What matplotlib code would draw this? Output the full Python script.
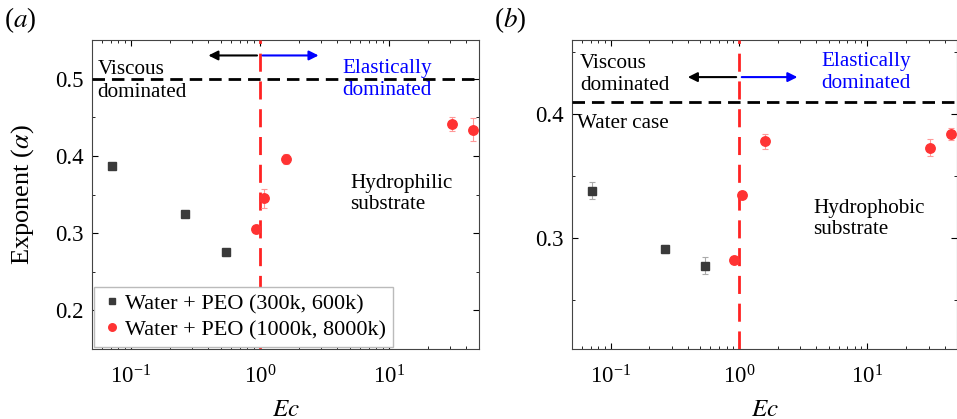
import numpy as np
import matplotlib
matplotlib.use('Agg')
import matplotlib.pyplot as plt
from matplotlib.ticker import LogLocator, MultipleLocator, NullFormatter

plt.rcParams['font.family'] = ['Liberation Serif', 'DejaVu Serif']
plt.rcParams['mathtext.fontset'] = 'stix'
plt.rcParams['font.size'] = 15.2

# panel (a): hydrophilic substrate
a_low_x = [0.072, 0.264, 0.545]
a_low_y = [0.387, 0.325, 0.275]
a_low_err = [0.004, 0.003, 0.004]
a_high_x = [0.93, 1.07, 1.59, 30.8, 44.8]
a_high_y = [0.305, 0.345, 0.396, 0.441, 0.434]
a_high_err = [0.005, 0.012, 0.007, 0.009, 0.015]

# panel (b): hydrophobic substrate
b_low_x = [0.072, 0.264, 0.545]
b_low_y = [0.338, 0.291, 0.2775]
b_low_err = [0.007, 0.003, 0.007]
b_high_x = [0.92, 1.06, 1.59, 30.7, 44.7]
b_high_y = [0.282, 0.335, 0.378, 0.373, 0.384]
b_high_err = [0.003, 0.003, 0.006, 0.007, 0.005]

labels = ['Water + PEO (300k, 600k)', 'Water + PEO (1000k, 8000k)']
dark = '#3a3a3a'
red = '#ff3333'

fig = plt.figure(figsize=(9.57, 4.19), dpi=100)
ax1 = fig.add_axes([0.0961, 0.167, 0.4044, 0.7375])
ax2 = fig.add_axes([0.5977, 0.167, 0.4023, 0.7375])


def draw(ax, lx, ly, le, hx, hy, he, hline, ylim, arrow_y):
    ax.errorbar(lx, ly, yerr=le, fmt='none', ecolor='#aaaaaa',
                elinewidth=0.8, capsize=2.5, capthick=0.8, zorder=4)
    ax.errorbar(hx, hy, yerr=he, fmt='none', ecolor='#ff9999',
                elinewidth=0.8, capsize=2.5, capthick=0.8, zorder=4)
    ax.plot(lx, ly, 's', color=dark, ms=5.5, label=labels[0], zorder=5)
    ax.plot(hx, hy, 'o', color=red, ms=6.8, label=labels[1], zorder=5)
    ax.axhline(hline, color='black', ls=(0, (4.5, 2.5)), lw=2, zorder=3)
    ax.axvline(1.0, color='#ff2222', ls=(0, (6.5, 3.5)), lw=2, zorder=3)
    ax.annotate('', xy=(0.38, arrow_y), xytext=(1.0, arrow_y),
                arrowprops=dict(arrowstyle='-|>', color='black', lw=1.5, mutation_scale=14))
    ax.annotate('', xy=(3.0, arrow_y), xytext=(1.0, arrow_y),
                arrowprops=dict(arrowstyle='-|>', color='blue', lw=1.5, mutation_scale=14))
    ax.set_xscale('log')
    ax.set_xlim(0.05, 50)
    ax.set_ylim(*ylim)
    ax.xaxis.set_major_locator(LogLocator(base=10))
    ax.xaxis.set_minor_locator(LogLocator(base=10, subs=np.arange(2, 10)))
    ax.xaxis.set_minor_formatter(NullFormatter())
    ax.yaxis.set_major_locator(MultipleLocator(0.1))
    ax.yaxis.set_minor_locator(MultipleLocator(0.05))
    ax.tick_params(which='both', direction='in', top=True, right=True, labelsize=16.5)
    ax.tick_params(which='major', length=4, width=0.8, pad=6)
    ax.tick_params(axis='x', which='major', pad=12)
    ax.tick_params(which='minor', length=2.5, width=0.6)
    ax.set_xlabel('$Ec$', fontsize=18, labelpad=7)
    for s in ax.spines.values():
        s.set_color('#444444')


draw(ax1, a_low_x, a_low_y, a_low_err, a_high_x, a_high_y, a_high_err, 0.5, (0.15, 0.55), 0.53)
ax1.set_ylabel(r'Exponent ($\alpha$)', fontsize=19)
ax1.yaxis.set_label_coords(-0.145, 0.5)
ax1.text(0.014, 0.935, 'Viscous\ndominated', transform=ax1.transAxes, va='top', ha='left', linespacing=1.25)
ax1.text(0.646, 0.94, 'Elastically\ndominated', transform=ax1.transAxes, va='top', ha='left',
         color='blue', linespacing=1.25)
ax1.text(0.667, 0.565, 'Hydrophilic\nsubstrate', transform=ax1.transAxes, va='top', ha='left', linespacing=1.1)
leg = ax1.legend(loc='lower left', borderaxespad=0.1, handletextpad=0.1, handlelength=1.0,
                 fancybox=False, edgecolor='#bbbbbb', framealpha=1, borderpad=0.3, labelspacing=0.25,
                 markerscale=0.8, fontsize=16)
fig.text(0.004, 0.952, '($a$)', fontsize=19.5, va='center')

draw(ax2, b_low_x, b_low_y, b_low_err, b_high_x, b_high_y, b_high_err, 0.41, (0.21, 0.46), 0.43)
ax2.text(0.021, 0.955, 'Viscous\ndominated', transform=ax2.transAxes, va='top', ha='left', linespacing=1.2)
ax2.text(0.648, 0.96, 'Elastically\ndominated', transform=ax2.transAxes, va='top', ha='left',
         color='blue', linespacing=1.2)
ax2.text(0.012, 0.76, 'Water case', transform=ax2.transAxes, va='top', ha='left')
ax2.text(0.626, 0.485, 'Hydrophobic\nsubstrate', transform=ax2.transAxes, va='top', ha='left', linespacing=1.1)
fig.text(0.516, 0.952, '($b$)', fontsize=19.5, va='center')

fig.savefig('out.png', dpi=100)
